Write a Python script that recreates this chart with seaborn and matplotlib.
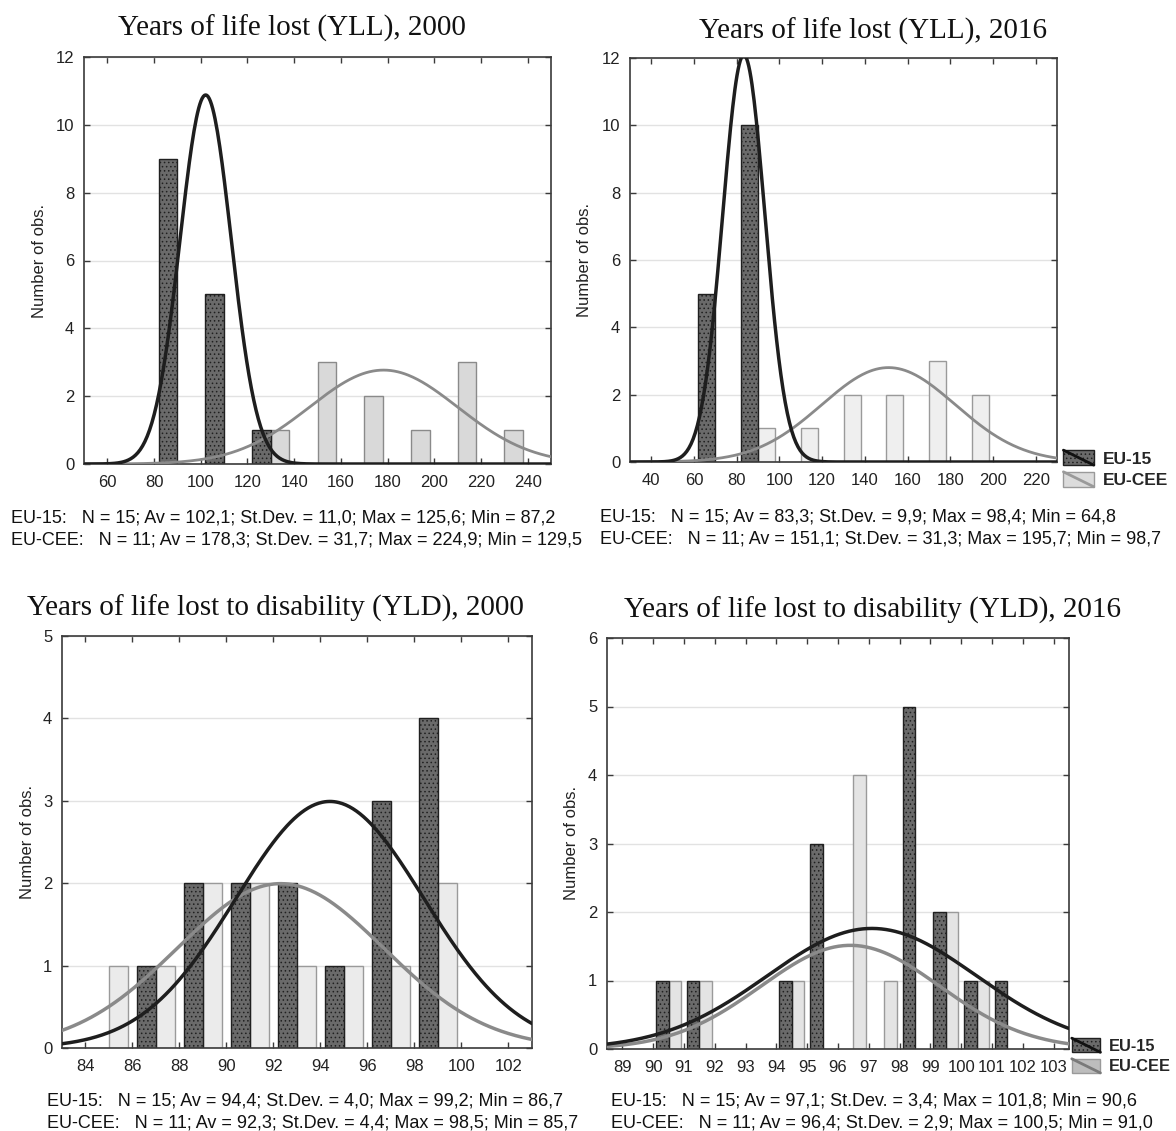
import numpy as np
import pandas as pd
import matplotlib
matplotlib.use("Agg")
import matplotlib.pyplot as plt
import seaborn as sns
from matplotlib.patches import Rectangle, Patch
from matplotlib.lines import Line2D
from matplotlib.legend_handler import HandlerBase
from matplotlib.colors import to_rgba

sns.set_theme(style="white")
plt.rcParams['font.family'] = ['Liberation Sans', 'DejaVu Sans']
plt.rcParams['hatch.linewidth'] = 0.6

groups = ["EU-15", "EU-CEE"]

# ---------------- data ----------------
# Panel 1: YLL 2000
yll00_title = "Years of life lost (YLL), 2000"
yll00_edges = [60, 80, 100, 120, 140, 160, 180, 200, 220, 240]
yll00_eu15 = [0, 9, 5, 1, 0, 0, 0, 0, 0]
yll00_cee = [0, 0, 0, 1, 3, 2, 1, 3, 1]
yll00_stats15 = [15, 102.1, 11.0, 125.6, 87.2]
yll00_statscee = [11, 178.3, 31.7, 224.9, 129.5]
yll00_xticks = [60, 80, 100, 120, 140, 160, 180, 200, 220, 240]
yll00_yticks = [0, 2, 4, 6, 8, 10, 12]

# Panel 2: YLL 2016
yll16_title = "Years of life lost (YLL), 2016"
yll16_edges = [40, 60, 80, 100, 120, 140, 160, 180, 200, 220]
yll16_eu15 = [0, 5, 10, 0, 0, 0, 0, 0, 0]
yll16_cee = [0, 0, 1, 1, 2, 2, 3, 2, 0]
yll16_stats15 = [15, 83.3, 9.9, 98.4, 64.8]
yll16_statscee = [11, 151.1, 31.3, 195.7, 98.7]
yll16_xticks = [40, 60, 80, 100, 120, 140, 160, 180, 200, 220]
yll16_yticks = [0, 2, 4, 6, 8, 10, 12]

# Panel 3: YLD 2000
yld00_title = "Years of life lost to disability (YLD), 2000"
yld00_edges = [84, 86, 88, 90, 92, 94, 96, 98, 100, 102]
yld00_eu15 = [0, 1, 2, 2, 2, 1, 3, 4, 0]
yld00_cee = [1, 1, 2, 2, 1, 1, 1, 2, 0]
yld00_stats15 = [15, 94.4, 4.0, 99.2, 86.7]
yld00_statscee = [11, 92.3, 4.4, 98.5, 85.7]
yld00_xticks = [84, 86, 88, 90, 92, 94, 96, 98, 100, 102]
yld00_yticks = [0, 1, 2, 3, 4, 5]

# Panel 4: YLD 2016
yld16_title = "Years of life lost to disability (YLD), 2016"
yld16_edges = [89, 90, 91, 92, 93, 94, 95, 96, 97, 98, 99, 100, 101, 102, 103]
yld16_eu15 = [0, 1, 1, 0, 0, 1, 3, 0, 0, 5, 2, 1, 1, 0]
yld16_cee = [0, 1, 1, 0, 0, 1, 0, 4, 1, 0, 2, 1, 0, 0]
yld16_stats15 = [15, 97.1, 3.4, 101.8, 90.6]
yld16_statscee = [11, 96.4, 2.9, 100.5, 91.0]
yld16_xticks = [89, 90, 91, 92, 93, 94, 95, 96, 97, 98, 99, 100, 101, 102, 103]
yld16_yticks = [0, 1, 2, 3, 4, 5, 6]

# ---------------- layout (pixels) ----------------
W, H = 1176, 1131
fig = plt.figure(figsize=(W / 100, H / 100), dpi=100)
fig.patch.set_facecolor("white")

DARK = "#6a6a6a"
DARK_EDGE = "#202020"
CURVE15 = "#1e1e1e"
CURVECEE = "#8a8a8a"


class HandlerDiag(HandlerBase):
    def __init__(self, linecolor):
        super().__init__()
        self.linecolor = linecolor

    def create_artists(self, legend, orig_handle, xdescent, ydescent,
                       width, height, fontsize, trans):
        r = Rectangle((-xdescent, -ydescent), width, height,
                      facecolor=orig_handle.get_facecolor(),
                      edgecolor=orig_handle.get_edgecolor(),
                      hatch=orig_handle.get_hatch(), lw=1.0, transform=trans)
        l = Line2D([-xdescent, -xdescent + width],
                   [-ydescent + height, -ydescent],
                   color=self.linecolor, lw=2.0, transform=trans)
        return [r, l]


def fmt(v):
    return f"{v:.1f}".replace(".", ",")


def panel(box, title, title_xy, edges, c15, ccee, s15, scee, xticks, yticks,
          xlim, ylim, light, light_edge, ylab_x, stats_xy, legend=None,
          cee_curve_lw=2.0):
    l, t, r, b = box
    ax = fig.add_axes([l / W, 1 - b / H, (r - l) / W, (b - t) / H])
    centers = [(edges[i] + edges[i + 1]) / 2 for i in range(len(edges) - 1)]
    df = pd.DataFrame({
        "x": centers * 2,
        "count": list(c15) + list(ccee),
        "group": [groups[0]] * len(c15) + [groups[1]] * len(ccee),
    })
    sns.histplot(data=df, x="x", weights="count", hue="group",
                 hue_order=groups, bins=edges, multiple="dodge", shrink=0.8,
                 palette={groups[0]: DARK, groups[1]: light}, alpha=1,
                 legend=False, ax=ax, zorder=2)
    dark_rgba = to_rgba(DARK)
    for p in ax.patches:
        fc = p.get_facecolor()
        if p.get_height() <= 0:
            p.set_visible(False)
            continue
        if np.allclose(fc[:3], dark_rgba[:3], atol=0.02):
            p.set_edgecolor(DARK_EDGE)
            p.set_hatch("....")
            p.set_linewidth(1.0)
        else:
            p.set_edgecolor(light_edge)
            p.set_linewidth(1.0)

    bw = edges[1] - edges[0]
    xs = np.linspace(xlim[0], xlim[1], 400)
    for st, col, lw in [(scee, CURVECEE, cee_curve_lw), (s15, CURVE15, 2.5)]:
        n, mu, sd = st[0], st[1], st[2]
        ys = n * bw / (sd * np.sqrt(2 * np.pi)) * np.exp(-0.5 * ((xs - mu) / sd) ** 2)
        sns.lineplot(x=xs, y=ys, color=col, lw=lw, ax=ax, zorder=3)

    ax.set_xlim(*xlim)
    ax.set_ylim(*ylim)
    ax.set_xticks(xticks)
    ax.set_yticks(yticks)
    ax.set_xticklabels([str(v) for v in xticks])
    ax.set_yticklabels([str(v) for v in yticks])
    ax.yaxis.grid(True, color="#e2e2e2", lw=1.0, zorder=0)
    ax.xaxis.grid(False)
    ax.set_axisbelow(True)
    ax.tick_params(axis="both", direction="in", length=4, width=1,
                   colors="#3a3a3a", labelcolor="#222222", labelsize=12,
                   top=True, right=True, bottom=True, left=True)
    ax.tick_params(axis="x", pad=8)
    ax.tick_params(axis="y", pad=7)
    for s in ax.spines.values():
        s.set_color("#3a3a3a")
        s.set_linewidth(1.2)
    ax.set_xlabel("")
    ax.set_ylabel("Number of obs.", fontsize=12, color="#222222")
    ax.yaxis.set_label_coords(ylab_x, 0.5)

    fig.text(title_xy[0] / W, 1 - title_xy[1] / H, title,
             family=["Liberation Serif", "DejaVu Serif"], fontsize=21,
             ha="center", va="center", color="#111111")

    line1 = (f"EU-15:   N = {s15[0]}; Av = {fmt(s15[1])}; St.Dev. = {fmt(s15[2])}; "
             f"Max = {fmt(s15[3])}; Min = {fmt(s15[4])}")
    line2 = (f"EU-CEE:   N = {scee[0]}; Av = {fmt(scee[1])}; St.Dev. = {fmt(scee[2])}; "
             f"Max = {fmt(scee[3])}; Min = {fmt(scee[4])}")
    fig.text(stats_xy[0] / W, 1 - stats_xy[1] / H, line1, fontsize=13.0,
             ha="left", va="center", color="#111111")
    fig.text(stats_xy[0] / W, 1 - (stats_xy[1] + 22) / H, line2, fontsize=13.0,
             ha="left", va="center", color="#111111")

    if legend is not None:
        (lx, ly), cee_face, cee_line, lsize = legend
        h1 = Patch(facecolor=DARK, edgecolor=DARK_EDGE, hatch="....")
        h2 = Patch(facecolor=cee_face, edgecolor="#9a9a9a")
        ax.legend([h1, h2], groups, loc="lower left",
                  bbox_to_anchor=(lx, ly), frameon=False,
                  handler_map={h1: HandlerDiag("#111111"),
                               h2: HandlerDiag(cee_line)},
                  prop={"weight": "bold", "size": lsize},
                  handlelength=1.75, handleheight=0.95,
                  handletextpad=0.5, borderpad=0, labelspacing=0.3,
                  borderaxespad=0)
    return ax


panel((84, 57, 551, 464), yll00_title, (292, 28), yll00_edges, yll00_eu15,
      yll00_cee, yll00_stats15, yll00_statscee, yll00_xticks, yll00_yticks,
      (50, 250), (0, 12), "#d9d9d9", "#8a8a8a", -0.079, (11, 518))

panel((630, 58, 1057, 462), yll16_title, (873, 31), yll16_edges, yll16_eu15,
      yll16_cee, yll16_stats15, yll16_statscee, yll16_xticks, yll16_yticks,
      (30, 230), (0, 12), "#efefef", "#9a9a9a", -0.089, (600, 517),
      legend=((1.015, -0.065), "#dcdcdc", "#9a9a9a", 12.5))

panel((62, 636, 532, 1048), yld00_title, (275, 608), yld00_edges, yld00_eu15,
      yld00_cee, yld00_stats15, yld00_statscee, yld00_xticks, yld00_yticks,
      (83, 103), (0, 5), "#ebebeb", "#9a9a9a", -0.057, (47, 1101),
      cee_curve_lw=2.5)

panel((607, 638, 1069, 1049), yld16_title, (872, 610), yld16_edges, yld16_eu15,
      yld16_cee, yld16_stats15, yld16_statscee, yld16_xticks, yld16_yticks,
      (88.5, 103.5), (0, 6), "#e4e4e4", "#9a9a9a", -0.061, (611, 1101),
      legend=((1.006, -0.062), "#bdbdbd", "#7a7a7a", 11.8), cee_curve_lw=2.5)

fig.savefig("out.png", dpi=100, facecolor="white")
